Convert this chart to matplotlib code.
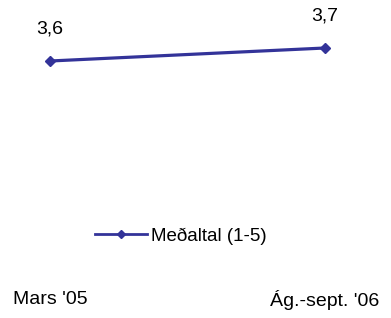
import matplotlib
matplotlib.use("Agg")
import matplotlib.pyplot as plt
from matplotlib.transforms import blended_transform_factory

categories = ["Mars '05", "Ág.-sept. '06"]
values = [3.6, 3.7]
value_labels = ["3,6", "3,7"]
series_name = "Meðaltal (1-5)"

LINE_COLOR = "#333399"
plt.rcParams["font.family"] = ["Liberation Sans", "DejaVu Sans"]

fig = plt.figure(figsize=(3.91, 3.18), dpi=100)
ax = fig.add_axes([0, 0, 1, 1])
x = list(range(len(categories)))
line, = ax.plot(x, values, color=LINE_COLOR, linewidth=2.3, marker="D",
                markersize=5, label=series_name)

for xi, v, lab in zip(x, values, value_labels):
    ax.annotate(lab, (xi, v), xytext=(0, 23), textcoords="offset points",
                ha="center", va="center", fontsize=14)

trans = blended_transform_factory(ax.transData, fig.transFigure)
for xi, cat in zip(x, categories):
    ax.text(xi, 1 - 300 / 318, cat, transform=trans, ha="center",
            va="center", fontsize=14)

ax.set_xlim(-50 / 275, 1 + 66 / 275)
ymax = 3.6 + 61 / 130
ax.set_ylim(ymax - 318 / 130, ymax)
ax.set_axis_off()

leg = fig.legend(handles=[line], loc="center left",
                 bbox_to_anchor=(95 / 391, 1 - 236 / 318),
                 frameon=False, fontsize=13.5, handlelength=2.75,
                 handletextpad=0.25, borderpad=0, borderaxespad=0,
                 markerscale=0.8)
leg.get_lines()[0].set_linewidth(2)

fig.savefig("out.png", dpi=100, facecolor="white")
